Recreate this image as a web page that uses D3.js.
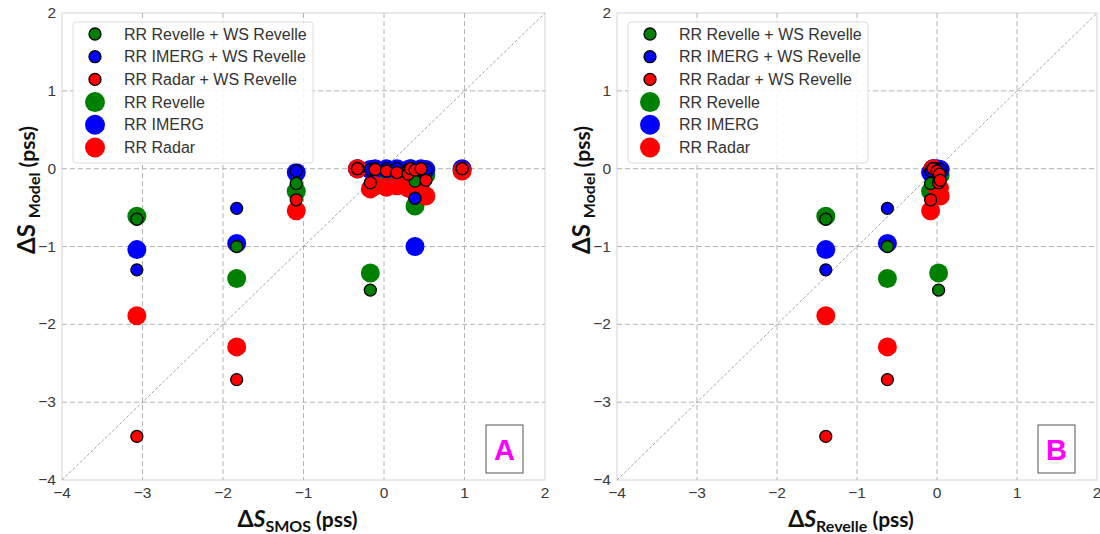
<!DOCTYPE html>
<html><head><meta charset="utf-8">
<script src="https://cdn.jsdelivr.net/npm/d3@7"></script>
<style>
html,body{margin:0;padding:0;background:#fff;}
svg{display:block;}
</style></head>
<body>
<svg id="chart" width="1100" height="534"></svg>
<script>
// ---- data ----
const seriesNames = ["RR Revelle + WS Revelle","RR IMERG + WS Revelle","RR Radar + WS Revelle","RR Revelle","RR IMERG","RR Radar"];
const axisTicks = [-4,-3,-2,-1,0,1,2];
// x values per event
const dsSmos    = [-3.07,-1.83,-1.09,-0.33,-0.17,-0.11,0.03,0.16,0.30,0.33,0.385,0.46,0.52,0.97];
const dsRevelle = [-1.39,-0.62,-0.08,-0.05,0.02,null,0.00,null,0.03,null,null,null,0.04,null];
// model responses per event
const rrRevelleWs = [-0.65,-1.00,-0.19,0,-1.56,-0.01,-0.02,-0.02,-0.03,0,-0.16,-0.01,-0.05,0];
const rrImergWs   = [-1.30,-0.51,-0.03,0,-0.01,0,0,0,-0.01,0,-0.38,0,-0.01,0];
const rrRadarWs   = [-3.44,-2.71,-0.40,0,-0.18,-0.01,-0.03,-0.05,-0.07,0,-0.02,0,-0.15,0];
const rrRevelle   = [-0.61,-1.41,-0.29,0,-1.34,-0.01,-0.03,-0.04,-0.05,0,-0.48,-0.02,-0.08,-0.01];
const rrImerg     = [-1.04,-0.96,-0.05,0,-0.01,0,0,0,-0.01,0,-1.00,0,-0.01,0];
const rrRadar     = [-1.89,-2.29,-0.54,0,-0.26,-0.22,-0.24,-0.22,-0.25,-0.20,-0.30,-0.28,-0.35,-0.03];

// ---- styles ----
const colors = ["#008000","#0000ff","#ff0000","#008000","#0000ff","#ff0000"];
const isSmall = [true,true,true,false,false,false];
const ys = [rrRevelleWs,rrImergWs,rrRadarWs,rrRevelle,rrImerg,rrRadar];
const drawOrder = [3,4,5,0,1,2];

const svg = d3.select("#chart");
const tickFont = "'Liberation Sans', Arial, sans-serif";
const labelFont = "Lato, 'Open Sans', sans-serif";

function panel(xVals, left, right, sub, letter) {
  const top = 13, bottom = 480;
  const x = d3.scaleLinear().domain([-4,2]).range([left,right]);
  const y = d3.scaleLinear().domain([-4,2]).range([bottom,top]);
  const g = svg.append("g");

  // frame
  g.append("rect").attr("x",left).attr("y",top).attr("width",right-left).attr("height",bottom-top)
    .attr("fill","#fff").attr("stroke","#e3e3e3").attr("stroke-width",1.5);

  // grid
  const inner = axisTicks.filter(t => t>-4 && t<2);
  g.selectAll(".vg").data(inner).join("line")
    .attr("x1",d=>x(d)).attr("x2",d=>x(d)).attr("y1",top).attr("y2",bottom)
    .attr("stroke","#b4b4b4").attr("stroke-width",1).attr("stroke-dasharray","5,3");
  g.selectAll(".hg").data(inner).join("line")
    .attr("y1",d=>y(d)).attr("y2",d=>y(d)).attr("x1",left).attr("x2",right)
    .attr("stroke","#b4b4b4").attr("stroke-width",1).attr("stroke-dasharray","5,3");

  // 1:1 line
  g.append("line").attr("x1",x(-4)).attr("y1",y(-4)).attr("x2",x(2)).attr("y2",y(2))
    .attr("stroke","#9a9a9a").attr("stroke-width",0.9).attr("stroke-dasharray","3,2");

  // tick labels
  g.selectAll(".xt").data(axisTicks).join("text")
    .attr("x",d=>x(d)).attr("y",498).attr("text-anchor","middle")
    .attr("font-family",tickFont).attr("font-size",15.5).attr("fill","#3a3a3a")
    .text(d=>d<0?"\u2212"+Math.abs(d):d);
  g.selectAll(".yt").data(axisTicks).join("text")
    .attr("x",left-6).attr("y",d=>y(d)+5).attr("text-anchor","end")
    .attr("font-family",tickFont).attr("font-size",15.5).attr("fill","#3a3a3a")
    .text(d=>d<0?"\u2212"+Math.abs(d):d);

  // points
  drawOrder.forEach(si => {
    const pts = xVals.map((xv,i)=>({x:xv,y:ys[si][i]})).filter(p=>p.x!==null && p.y!==null);
    g.selectAll(null).data(pts).join("circle")
      .attr("cx",d=>x(d.x)).attr("cy",d=>y(d.y))
      .attr("r",isSmall[si]?6:9.5)
      .attr("fill",colors[si])
      .attr("stroke",isSmall[si]?"#000":"none").attr("stroke-width",1.3);
  });

  // legend
  const lx = left+11, ly = top+9;
  g.append("rect").attr("x",lx).attr("y",ly).attr("width",240).attr("height",141).attr("rx",3)
    .attr("fill","#fff").attr("fill-opacity",0.85).attr("stroke","#dcdcdc").attr("stroke-width",1);
  seriesNames.forEach((name,i) => {
    const cy = ly + 12 + i*22.7;
    g.append("circle").attr("cx",lx+22).attr("cy",cy).attr("r",isSmall[i]?6:10)
      .attr("fill",colors[i]).attr("stroke",isSmall[i]?"#000":"none").attr("stroke-width",1.3);
    g.append("text").attr("x",lx+51).attr("y",cy+5.5)
      .attr("font-family",tickFont).attr("font-size",16).attr("fill","#333").text(name);
  });

  // panel letter box
  const bx = right-59, by = 425;
  g.append("rect").attr("x",bx).attr("y",by).attr("width",37).attr("height",48)
    .attr("fill","#fff").attr("stroke","#555").attr("stroke-width",1);
  g.append("text").attr("x",bx+18.5).attr("y",by+35).attr("text-anchor","middle")
    .attr("font-family",tickFont).attr("font-weight","bold").attr("font-size",29)
    .attr("fill","#ff00ff").text(letter);

  // x label
  const cx = (left+right)/2 - 6;
  const xl = g.append("text").attr("x",cx).attr("y",527).attr("text-anchor","middle")
    .attr("font-family",labelFont).attr("font-weight","bold").attr("fill","#111");
  xl.append("tspan").attr("font-size",23).text("\u0394");
  xl.append("tspan").attr("font-size",23).attr("font-style","italic").text("S");
  xl.append("tspan").attr("font-size",16).attr("dy",5).text(sub);
  xl.append("tspan").attr("font-size",21).attr("dy",-5).text(" (pss)");

  // y label
  const yl = g.append("text").attr("transform",`translate(${left-27},190) rotate(-90)`)
    .attr("text-anchor","middle").attr("font-family",labelFont).attr("font-weight","bold").attr("fill","#111");
  yl.append("tspan").attr("font-size",24).text("\u0394S ");
  yl.append("tspan").attr("font-size",16).attr("dy",5).text("Model");
  yl.append("tspan").attr("font-size",21).attr("dy",-5).text(" (pss)");
}

panel(dsSmos, 62, 545, "SMOS", "A");
panel(dsRevelle, 617, 1097, "Revelle", "B");
</script>
</body></html>
